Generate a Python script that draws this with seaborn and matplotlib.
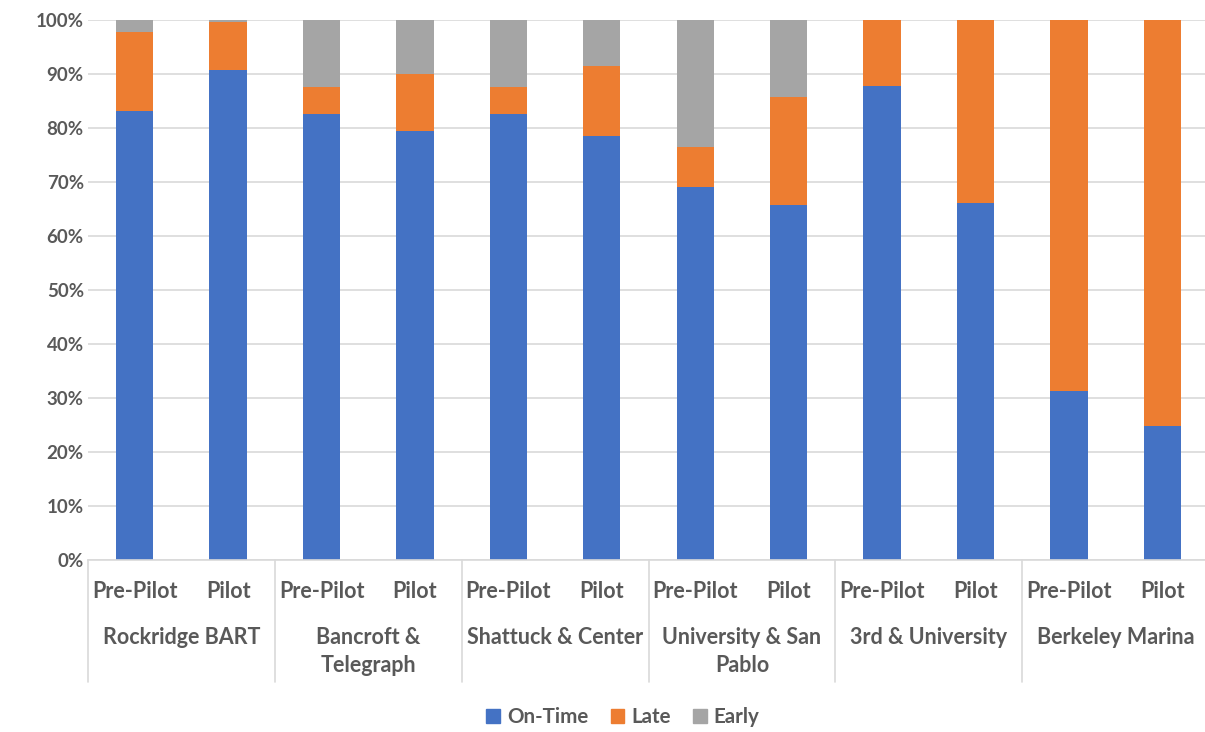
import numpy as np
import pandas as pd
import seaborn as sns
import matplotlib.pyplot as plt
import matplotlib.transforms as mtransforms
from matplotlib.patches import Patch

# data (percent of trips)
stops = ["Rockridge BART", "Bancroft &\nTelegraph", "Shattuck & Center",
         "University & San\nPablo", "3rd & University", "Berkeley Marina"]
periods = ["Pre-Pilot", "Pilot"]
on_time = [83.2, 90.8, 82.5, 79.5, 82.6, 78.6, 69.0, 65.7, 87.7, 66.1, 31.3, 24.8]
late = [14.5, 8.8, 5.0, 10.5, 4.9, 12.8, 7.4, 20.0, 12.3, 33.9, 68.7, 75.2]
early = [2.3, 0.4, 12.5, 10.0, 12.5, 8.6, 23.6, 14.3, 0.0, 0.0, 0.0, 0.0]

BLUE = "#4472C4"
ORANGE = "#ED7D31"
GRAY = "#A5A5A5"
TXT = "#595959"
GRID = "#D9D9D9"

sns.set_theme(style="whitegrid")
plt.rcParams["font.family"] = ["Lato", "DejaVu Sans"]

keys = [f"{s}|{p}" for s in stops for p in periods]
df = pd.DataFrame({
    "key": keys,
    "period": [p for s in stops for p in periods],
    "on_time": on_time,
    "late": late,
    "early": early,
})
df["lvl1"] = df["on_time"]
df["lvl2"] = df["on_time"] + df["late"]
df["lvl3"] = df["lvl2"] + df["early"]

fig = plt.figure(figsize=(12.05, 7.32), dpi=100)
ax = fig.add_axes([88 / 1205, 172 / 732, 1121 / 1205, 540 / 732])

# stacked bars: draw totals first, then overlay lower segments
for col, c in [("lvl3", GRAY), ("lvl2", ORANGE), ("lvl1", BLUE)]:
    sns.barplot(data=df, x="key", y=col, color=c, width=0.4, saturation=1,
                linewidth=0, ax=ax, order=keys)

ax.set_xlim(-0.5, len(keys) - 0.5)
ax.set_ylim(0, 100)
ax.set_yticks(np.arange(0, 101, 10))
ax.set_yticklabels([f"{v}%" for v in range(0, 101, 10)])
ax.set_xticks(range(len(keys)))
ax.set_xticklabels(df["period"])
ax.set_xlabel("")
ax.set_ylabel("")
ax.grid(axis="y", color=GRID, linewidth=1.2)
ax.grid(axis="x", visible=False)
ax.set_axisbelow(True)
for sp in ["left", "right", "top"]:
    ax.spines[sp].set_visible(False)
ax.spines["bottom"].set_color(GRID)
ax.spines["bottom"].set_linewidth(1.2)
ax.tick_params(axis="y", length=0, pad=3, labelsize=13.5, labelcolor=TXT)
ax.tick_params(axis="x", length=0, pad=15, labelsize=15.5, labelcolor=TXT)
for lab in ax.get_xticklabels() + ax.get_yticklabels():
    lab.set_fontweight("bold")

# group labels and separators
trans = mtransforms.blended_transform_factory(ax.transData, ax.transAxes)
for i, s in enumerate(stops):
    ax.text(2 * i + 0.5, -0.124, s, transform=trans, ha="center", va="top",
            fontsize=15.5, fontweight="bold", color=TXT, linespacing=1.42)
for b in np.arange(-0.5, len(keys), 2):
    ax.plot([b, b], [0, -0.226], transform=trans, color=GRID, lw=1.2,
            clip_on=False)

handles = [Patch(color=BLUE, label="On-Time"), Patch(color=ORANGE, label="Late"),
           Patch(color=GRAY, label="Early")]
leg = fig.legend(handles=handles, loc="center", bbox_to_anchor=(0.517, 0.02),
                 ncol=3, frameon=False, handlelength=0.65, handleheight=0.65,
                 handletextpad=0.35, columnspacing=1.1,
                 prop={"size": 14.8, "weight": "bold"})
for t in leg.get_texts():
    t.set_color(TXT)

fig.savefig("out.png", dpi=100)
